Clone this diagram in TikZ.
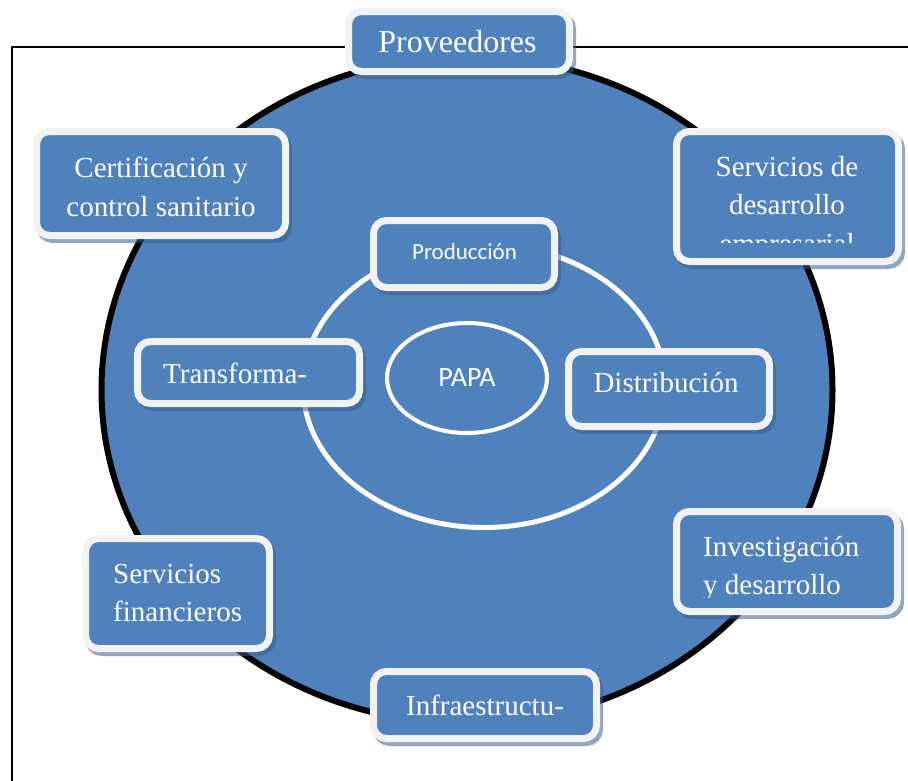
\documentclass[tikz,border=0pt]{standalone}
\usepackage{fontspec}
\setmainfont{Liberation Serif}
\newfontfamily\calfont{Carlito}
\usetikzlibrary{shapes.geometric,shadows}
\definecolor{boxblue}{HTML}{4F81BD}
\definecolor{boxrim}{HTML}{F2F2F2}
\definecolor{shadowcol}{HTML}{385D8A}
\begin{document}
\begin{tikzpicture}[x=1pt,y=-1pt,
  bx/.style={draw=boxrim, fill=boxblue, line width=7pt, rounded corners=13pt, inner sep=0pt,
    drop shadow={shadow xshift=3pt, shadow yshift=-4pt, fill=none, draw=shadowcol, line width=7pt, opacity=0.55}},
  tx/.style={text=white, inner sep=0pt, font=\fontsize{29}{38.5}\selectfont, align=center},
  ring/.style={ellipse, draw=white, inner sep=0pt}]
\useasboundingbox (0,0) rectangle (908,780);
% frame
\coordinate (fbl) at (12,781);
\coordinate (ftl) at (12,47);
\coordinate (ftr) at (909,47);
\draw[line width=2pt] (fbl) -- (ftl) -- (ftr);
% circles
\node[ellipse, draw=black, fill=boxblue, line width=6pt, inner sep=0pt,
      minimum width=731pt, minimum height=667pt] (big) at (467,390) {};
\node[ring, line width=5pt, minimum width=362pt, minimum height=283pt] (inner) at (484,386) {};
\node[ring, line width=4pt, minimum width=160pt, minimum height=110pt, text=white,
      font=\calfont\fontsize{28}{30}\selectfont] (papa) at (467,378) {PAPA};
% boxes
\node[bx, minimum width=221pt, minimum height=60pt] (prov) at (459,41.5) {};
\node[tx, font=\fontsize{32}{38}\selectfont] (provt) at (457.5,42) {Proveedores};

\node[bx, minimum width=249pt, minimum height=104pt] (cert) at (161,183.5) {};
\node[tx] (certt) at (161,187) {Certificación y\\control sanitario};

\node[bx, minimum width=222pt, minimum height=130pt] (sde) at (787.5,196.5) {};
\begin{scope}
\clip (680,140) rectangle (895,242);
\node[tx] (sdet) at (787,208) {Servicios de\\desarrollo\\empresarial};
\end{scope}

\node[bx, minimum width=181pt, minimum height=67pt] (prod) at (464,254) {};
\node[tx, font=\calfont\fontsize{23}{26}\selectfont] (prodt) at (464.5,252) {Producción};

\node[bx, minimum width=222pt, minimum height=62pt] (trans) at (248.5,372.5) {};
\node[tx, anchor=west] (transt) at (163,373) {Transforma-};

\node[bx, minimum width=201pt, minimum height=75pt] (dist) at (669,389) {};
\node[tx] (distt) at (666,383) {Distribución};

\node[bx, minimum width=221pt, minimum height=100pt] (inv) at (787,561.5) {};
\begin{scope}
\clip (680,520) rectangle (895,597);
\node[tx, align=left, anchor=west] (invt) at (703,568.5) {Investigación\\y desarrollo};
\end{scope}

\node[bx, minimum width=184pt, minimum height=110pt] (fin) at (177.5,593.5) {};
\node[tx, align=left, anchor=west] (fint) at (113,593) {Servicios\\financieros};

\node[bx, minimum width=223pt, minimum height=67pt] (infra) at (485,705) {};
\node[tx] (infrat) at (485,705) {Infraestructu-};
\end{tikzpicture}
\end{document}
